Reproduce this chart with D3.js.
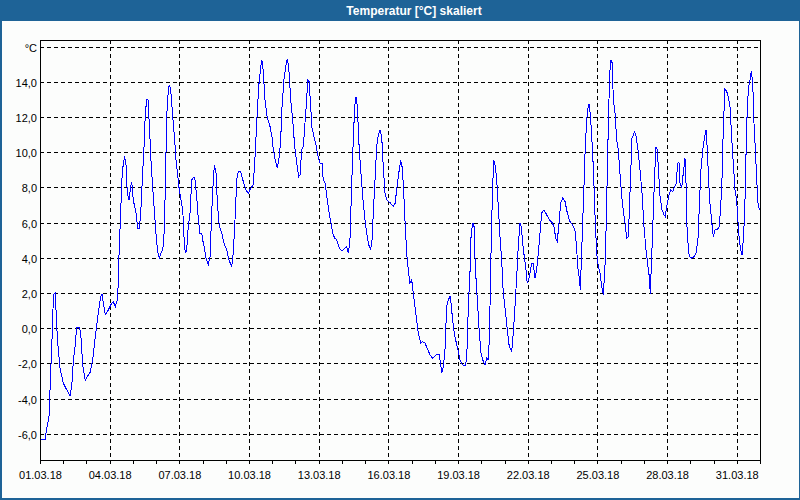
<!DOCTYPE html>
<html><head><meta charset="utf-8">
<script src="https://cdn.jsdelivr.net/npm/d3@7"></script>
<style>
html,body{margin:0;padding:0;background:#fcfdfc;}
svg{display:block;}
text{font-family:"Liberation Sans",Arial,sans-serif;}
</style></head>
<body>
<svg id="chart" width="800" height="500"></svg>
<script>
const title = "Temperatur [°C] skaliert";
const unitLabel = "°C";
const startDate = Date.UTC(2018, 2, 1);
const endDate = Date.UTC(2018, 3, 1);
const yTickValues = [-6, -4, -2, 0, 2, 4, 6, 8, 10, 12, 14];
const yTopGrid = 16;
// hours since 01.03.18 00:00
const hours = [0,5.2,6.9,9.3,10.3,11.4,12.4,13.1,14.5,15.8,17.3,18.9,20.7,24.1,27.6,31.0,32.8,34.4,36.2,37.9,40.6,42.1,44.1,46.8,48.9,51.7,54.5,56.8,60.2,62.7,64.1,65.4,67.5,70.6,73.1,75.7,77.8,79.9,80.6,81.9,83.4,84.4,86.1,87.5,88.9,90.2,92.0,93.7,94.8,96.4,99.2,101.0,102.6,104.1,105.7,107.5,108.8,110.3,111.6,112.9,115.0,117.1,118.8,120.6,122.2,123.3,124.7,126.8,128.1,129.5,130.9,132.6,133.6,135.1,137.1,139.2,140.5,142.3,143.9,145.4,147.5,148.8,150.1,151.6,153.2,155.0,156.8,158.4,159.9,161.9,163.6,165.3,167.1,168.1,169.5,171.5,173.9,175.7,177.4,179.1,180.2,181.9,183.3,185.3,187.8,190.1,192.9,195.3,198.1,199.7,201.5,203.3,204.9,207.4,210.1,212.9,215.2,217.7,220.4,222.2,223.9,226.0,228.1,229.4,230.7,232.5,234.9,237.7,239.7,241.1,243.1,245.2,247.3,248.7,250.1,252.1,254.2,255.5,257.0,259.1,261.1,263.2,265.3,267.3,268.7,270.4,272.1,273.8,275.6,276.6,278.0,279.7,281.1,283.1,285.2,287.3,289.3,291.4,292.7,294.8,296.3,298.3,300.4,302.5,304.5,306.6,308.7,310.7,312.8,315.2,316.9,318.6,320.3,322.1,323.7,325.2,326.5,327.9,329.9,332.4,334.1,335.8,337.6,339.7,341.7,343.1,344.4,346.2,347.9,349.6,351.3,353.1,354.7,356.5,358.3,361.7,365.1,366.9,368.6,370.7,372.8,374.1,375.4,377.2,378.9,380.6,382.3,384.1,385.7,387.5,389.2,390.9,393.4,395.4,397.8,400.2,403.0,405.8,409.2,412.6,414.1,415.1,416.8,418.5,420.2,421.9,423.7,424.7,426.4,428.1,429.9,432.2,434.0,436.8,439.2,440.9,442.6,444.3,445.4,447.1,448.5,449.8,451.9,454.0,455.7,458.1,459.8,461.6,463.6,465.0,466.3,467.8,469.1,470.5,471.9,473.6,475.3,477.1,478.7,481.2,482.9,484.9,487.4,489.1,490.8,492.6,494.2,496.0,497.3,498.8,500.4,502.2,503.5,505.0,506.3,508.1,509.7,511.5,513.2,514.9,516.7,518.4,520.8,523.6,526.3,529.1,531.1,532.9,534.5,536.3,538.0,540.1,542.5,544.9,547.6,550.4,553.1,554.6,556.2,557.3,558.3,559.8,560.8,562.1,563.2,564.9,566.6,567.6,569.1,571.1,572.5,573.8,575.3,576.9,578.7,580.4,582.1,583.8,584.9,586.2,587.7,589.0,590.0,591.4,592.4,594.2,595.9,597.6,599.3,601.1,602.7,604.5,606.2,607.9,608.9,610.4,611.7,613.1,614.5,615.9,617.9,620.0,622.1,624.1,626.2,628.3,629.6,630.6,632.1,633.7,635.2,636.5,637.9,639.3,640.7,642.7,644.8,646.1,647.6,649.6,651.7,653.8,655.8,657.9,658.5,660.3,661.3,663.1,664.7,666.5,667.5,668.2,669.3,670.9,673.4,675.8,677.8,679.9,681.3,682.7,684.8,686.9,688.2,689.6,691.0,692.3,694.1,695.7,697.5,699.9,701.9,703.4,704.7,706.1,707.8,709.6,711.2,713.0,714.7,716.4,718.2,719.9,720.9,722.6,724.0,725.4,726.7,728.2,729.5,730.9,732.3,733.7,735.0,736.5,737.8,739.2,740.6,741.9,743.3];
const temps = [-6.29,-6.35,-5.69,-5.03,-3.6,-1.97,-0.66,0.85,1.95,2.0,0.09,-1.23,-2.26,-3.13,-3.5,-3.85,-3.3,-1.9,-1.05,0.06,0.06,-0.28,-2.09,-2.98,-2.75,-2.52,-1.8,-0.66,0.85,1.8,1.95,1.42,0.76,1.04,1.32,1.51,1.23,1.61,2.27,4.64,6.54,8.33,9.38,9.76,9.28,7.67,7.29,8.05,8.33,7.29,6.54,5.69,5.69,6.54,8.43,10.32,12.22,12.98,12.98,11.65,9.19,7.48,6.16,4.83,4.17,3.98,4.26,4.45,5.21,7.86,12.03,13.55,13.83,13.55,12.03,10.7,9.57,8.72,7.86,7.39,6.73,5.21,4.26,4.45,5.78,6.54,8.43,8.58,8.58,7.48,6.16,5.4,5.4,5.02,4.64,3.98,3.6,4.07,6.54,8.43,9.28,8.81,7.1,5.78,5.44,4.83,4.45,3.88,3.5,4.26,6.16,8.43,8.9,8.9,8.33,7.86,7.67,7.96,8.15,9.76,11.65,13.74,14.87,15.21,14.59,12.98,11.94,11.46,10.89,10.14,9.57,9.1,9.76,10.7,12.6,14.12,14.97,15.29,14.87,12.98,11.84,10.32,9.38,8.62,8.72,10.14,10.32,11.65,12.98,14.12,14.02,12.6,11.37,10.89,10.42,9.76,9.38,9.38,8.43,8.24,7.48,6.73,6.06,5.4,5.12,5.02,4.64,4.45,4.41,4.55,4.64,4.26,5.02,8.24,10.7,12.6,13.13,12.6,10.14,8.24,7.1,6.16,5.4,4.74,4.45,5.02,6.54,8.43,10.32,10.99,11.27,10.89,9.19,7.67,7.29,7.14,6.91,7.1,7.86,8.81,9.53,9.19,8.24,6.06,4.26,3.31,2.56,2.75,1.99,1.23,0.47,-0.28,-0.85,-0.76,-0.85,-1.14,-1.52,-1.71,-1.52,-1.52,-2.09,-2.56,-2.18,-1.23,1.23,1.61,1.8,1.42,0.47,-0.28,-0.76,-1.33,-1.8,-2.09,-2.14,-1.8,1.23,3.13,5.21,6.0,5.78,3.5,1.61,-0.28,-1.42,-1.9,-2.09,-1.71,-1.8,1.23,5.02,8.24,9.53,9.19,8.43,6.91,5.21,3.88,1.99,0.85,-0.1,-1.05,-1.33,-0.28,1.23,2.93,4.64,6.0,5.78,4.83,4.07,3.31,2.56,2.75,3.13,3.69,3.69,2.84,3.31,4.26,5.4,6.54,6.73,6.44,6.16,6.0,5.78,5.12,4.93,5.97,7.1,7.39,7.2,6.54,6.06,5.88,5.49,4.45,3.13,2.93,2.18,4.45,6.06,8.05,9.95,11.84,12.69,12.69,11.84,9.95,8.05,5.97,4.26,3.5,3.13,2.37,1.89,3.5,5.59,8.81,12.6,14.68,15.25,15.06,12.98,12.22,10.7,10.14,8.81,7.48,6.73,5.97,5.12,5.21,6.54,8.81,10.8,10.99,11.18,10.9,10.14,9.0,7.67,5.78,4.45,3.5,2.93,1.95,4.07,6.54,8.81,10.32,10.14,8.81,7.48,6.73,6.44,6.35,6.91,7.48,7.86,7.77,8.05,8.24,9.38,9.42,8.24,7.96,8.81,9.66,8.43,6.16,5.02,4.07,3.98,4.07,4.26,5.02,6.91,8.81,10.14,10.89,11.27,10.14,8.24,7.1,6.06,5.21,5.59,5.59,5.78,6.91,8.43,11.46,13.59,13.45,13.17,12.6,10.89,9.38,7.86,7.29,6.35,5.02,4.45,4.17,5.02,6.54,9.76,12.6,13.74,14.12,14.59,13.93,11.65,10.14,8.43,7.1,6.73];

const W = 800, H = 500;
const frameColor = "#1e6397";
const svg = d3.select("#chart");

// window background + title bar
svg.append("rect").attr("x",0).attr("y",0).attr("width",W).attr("height",H).attr("fill","#fcfdfc");
svg.append("rect").attr("x",0).attr("y",0).attr("width",W).attr("height",21).attr("fill",frameColor);
svg.append("rect").attr("x",0).attr("y",0).attr("width",2).attr("height",H).attr("fill",frameColor);
svg.append("rect").attr("x",W-1).attr("y",0).attr("width",1).attr("height",H).attr("fill",frameColor);
svg.append("rect").attr("x",0).attr("y",H-2).attr("width",W).attr("height",2).attr("fill",frameColor);
svg.append("text").attr("x",414).attr("y",15).attr("text-anchor","middle")
  .attr("fill","#ffffff").attr("font-weight","bold").attr("font-size","12px").text(title);

const L = 40, R = 760, T = 40, B = 460.5;
const x = d3.scaleUtc().domain([new Date(startDate), new Date(endDate)]).range([L, R]);
const y = d3.scaleLinear().domain([-7.52, 16.38]).range([B, T]);

const data = hours.map((h, i) => ({t: new Date(startDate + h * 3600000), v: temps[i]}));

const px = v => Math.round(v) + 0.5;

// grid
const grid = svg.append("g").attr("stroke","#000").attr("stroke-width",1)
  .attr("stroke-dasharray","4,3").attr("shape-rendering","crispEdges");
const gridDays = d3.utcDay.every(3).range(new Date(startDate), new Date(endDate))
  .filter(d => d.getUTCDate() % 3 === 1 && +d > startDate);
grid.selectAll("line.v").data(gridDays).join("line")
  .attr("x1", d => px(x(d))).attr("x2", d => px(x(d))).attr("y1", T).attr("y2", 460);
grid.selectAll("line.h").data(yTickValues.concat([yTopGrid])).join("line")
  .attr("x1", L).attr("x2", R).attr("y1", d => px(y(d))).attr("y2", d => px(y(d)));

// line
svg.append("clipPath").attr("id","clip").append("rect").attr("x",L).attr("y",T).attr("width",R-L).attr("height",460-T);
svg.append("path").datum(data)
  .attr("clip-path","url(#clip)")
  .attr("fill","none").attr("stroke","#0000ff").attr("stroke-width",1)
  .attr("shape-rendering","crispEdges")
  .attr("d", d3.line().x(d => x(d.t)).y(d => y(d.v)));

// frame
svg.append("rect").attr("x",L+0.5).attr("y",T+0.5).attr("width",R-L).attr("height",460-T)
  .attr("fill","none").attr("stroke","#000").attr("stroke-width",1).attr("shape-rendering","crispEdges");

// x axis ticks (daily) and labels (every 3 days)
const days = d3.utcDay.range(new Date(startDate), new Date(endDate + 1));
svg.append("g").attr("stroke","#000").attr("shape-rendering","crispEdges")
  .selectAll("line").data(days).join("line")
  .attr("x1", d => px(x(d))).attr("x2", d => px(x(d))).attr("y1", 460).attr("y2", 464);
const fmt = d3.utcFormat("%d.%m.%y");
const labelDays = days.filter(d => d.getUTCDate() % 3 === 1 && d.getUTCMonth() === 2);
svg.append("g").selectAll("text").data(labelDays).join("text")
  .attr("x", d => x(d) + 0.5).attr("y", 479).attr("text-anchor","middle")
  .attr("font-size","11px").attr("fill","#000").text(d => fmt(d));

// y labels
const yfmt = v => d3.format(".1f")(v).replace(".", ",").replace("−","-");
svg.append("g").selectAll("text").data(yTickValues).join("text")
  .attr("x", 37).attr("y", d => px(y(d)) + 4).attr("text-anchor","end")
  .attr("font-size","11px").attr("fill","#000").text(d => yfmt(d));
svg.append("text").attr("x", 37).attr("y", px(y(yTopGrid)) + 4).attr("text-anchor","end")
  .attr("font-size","11px").attr("fill","#000").text(unitLabel);
</script>
</body></html>
